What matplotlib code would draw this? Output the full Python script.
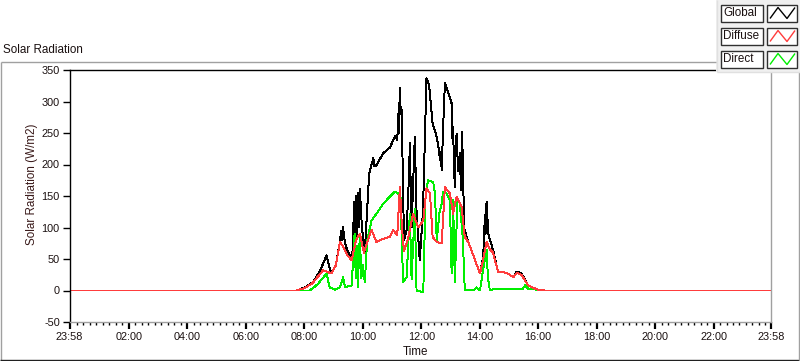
"""
Solar radiation over one day (global, diffuse, direct), LabVIEW-style chart.
"""

import matplotlib.pyplot as plt
from matplotlib.lines import Line2D
from matplotlib.patches import Rectangle
from matplotlib.ticker import FixedLocator

PLOT_FILE = "out.png"
W, H = 800, 361

START = -2 / 60          # 23:58 of the previous day
END = 24 - 2 / 60        # 23:58

# time in hours after midnight, values in W/m2
GLOBAL_T = [START, 7.74, 8.02, 8.29, 8.53, 8.76, 8.84, 8.93, 9.08, 9.15, 9.22,
            9.26, 9.29, 9.32, 9.39, 9.49, 9.62, 9.66, 9.70, 9.73, 9.77,
            9.80, 9.83, 9.87, 9.90, 9.97, 10.07, 10.14, 10.22, 10.36, 10.40,
            10.47, 10.70, 10.93, 11.10, 11.18, 11.22, 11.24, 11.26, 11.27,
            11.30, 11.33, 11.41, 11.50, 11.58, 11.61, 11.67, 11.78, 11.84,
            11.95, 12.06, 12.18, 12.27, 12.39, 12.53, 12.60, 12.64, 12.67,
            12.70, 12.75, 12.81, 12.90, 13.04, 13.07, 13.09, 13.12, 13.15,
            13.18, 13.21, 13.26, 13.32, 13.36, 13.40, 13.47, 13.61, 13.78,
            14.01, 14.12, 14.18, 14.20, 14.22, 14.24, 14.29, 14.46, 14.63,
            14.80, 14.96, 15.15, 15.27, 15.43, 15.66, 16.00, 16.23, END]
GLOBAL_V = [0, 0, 5, 13, 30, 56, 40, 27, 40, 60, 77,
            95, 80, 101, 75, 61, 53, 65, 140, 70, 150,
            85, 155, 100, 162, 100, 61, 120, 186, 210, 197,
            199, 218, 227, 245, 239, 280, 250, 310, 321,
            280, 287, 80, 96, 180, 234, 100, 244, 125,
            48, 127, 337, 326, 265, 244, 225, 207, 220,
            191, 260, 329, 318, 297, 240, 260, 200, 164,
            230, 249, 190, 218, 160, 252, 98, 77, 56,
            27, 53, 120, 90, 135, 141, 90, 64, 29,
            29, 27, 21, 30, 27, 8, 1, 0, 0]

DIFFUSE_T = [START, 7.74, 8.02, 8.29, 8.64, 8.77, 8.93, 9.08, 9.22, 9.32,
             9.49, 9.62, 9.77, 9.90, 10.04, 10.14, 10.30, 10.47, 10.70, 10.93,
             11.04, 11.18, 11.27, 11.34, 11.41, 11.54, 11.72, 11.90, 12.07,
             12.18, 12.30, 12.39, 12.53, 12.70, 12.81, 12.98, 13.09, 13.21,
             13.38, 13.49, 13.61, 13.78, 14.01, 14.12, 14.24, 14.35, 14.46,
             14.63, 14.80, 14.96, 15.15, 15.27, 15.43, 15.66, 16.00, 16.23,
             END]
DIFFUSE_V = [0, 0, 4, 12, 32, 30, 27, 40, 77, 70,
             55, 48, 80, 90, 60, 75, 96, 77, 82, 85,
             96, 88, 164, 100, 63, 80, 122, 100, 111,
             162, 154, 85, 77, 75, 164, 154, 122, 149,
             133, 85, 77, 56, 27, 50, 77, 65, 60,
             29, 29, 27, 21, 28, 25, 8, 1, 0,
             0]

DIRECT_T = [START, 8.19, 8.46, 8.76, 8.87, 9.05, 9.22, 9.33, 9.39, 9.62,
            9.72, 9.76, 9.80, 9.83, 9.90, 9.95, 10.00, 10.07, 10.15, 10.30,
            10.47, 10.70, 10.93, 11.10, 11.21, 11.29, 11.38, 11.50, 11.61,
            11.67, 11.78, 11.84, 12.07, 12.15, 12.24, 12.41, 12.47, 12.53,
            12.62, 12.70, 12.75, 12.87, 12.98, 13.04, 13.09, 13.15, 13.24,
            13.32, 13.42, 13.49, 13.78, 13.89, 14.01, 14.14, 14.24, 14.28,
            14.35, 14.52, 15.03, 15.48, 15.55, 15.65, 16.00, 16.23, END]
DIRECT_V = [0, 0, 10, 27, 5, 1, 5, 21, 5, 8,
            90, 20, 70, 5, 90, 20, 40, 13, 79, 111,
            122, 138, 149, 157, 154, 150, 13, 21, 122,
            18, 130, 0, -3, 154, 175, 172, 154, 80,
            122, 138, 157, 154, 143, 27, 143, 13, 146,
            138, 85, 1, 0, 5, 0, 40, 64, 20,
            0, 3, 3, 3, 8, 3, 1, 0, 0]

Y_TICKS = [350, 300, 250, 200, 150, 100, 50, 0, -50]
X_TICKS = [START, 2, 4, 6, 8, 10, 12, 14, 16, 18, 20, 22, END]
X_LABELS = ["23:58", "02:00", "04:00", "06:00", "08:00", "10:00", "12:00",
            "14:00", "16:00", "18:00", "20:00", "22:00", "23:58"]

SERIES = [("Global", "#000000"), ("Diffuse", "#ff3c3c"), ("Direct", "#00ee00")]

FONT = "Liberation Sans"
TEXT_COLOR = "#1a1010"
DATA_LW = 0.7


def fx(x):
    return x / W


def fy(y):
    return 1 - y / H


def fig_line(fig, xs, ys, color, lw=1.0):
    fig.add_artist(Line2D([fx(x) for x in xs], [fy(y) for y in ys],
                          color=color, lw=lw, solid_capstyle="butt"))


def fig_box(fig, x0, y0, x1, y1, face, edge):
    fig.add_artist(Rectangle((fx(x0), fy(y1)), (x1 - x0) / W, (y1 - y0) / H,
                             facecolor=face, edgecolor=edge, lw=1.0,
                             transform=fig.transFigure))


def draw_chart():
    plt.rcParams["font.family"] = [FONT, "DejaVu Sans"]
    plt.rcParams["axes.unicode_minus"] = False

    fig = plt.figure(figsize=(W / 100, H / 100), dpi=100)

    # outer frame of the graph control
    fig_line(fig, [0.5, 716], [61.5, 61.5], "#a0a0a0")
    fig_line(fig, [0.5, 0.5], [61.5, 360], "#a0a0a0")
    fig_line(fig, [0, 799], [359.5, 359.5], "#202020")
    fig_line(fig, [798.5, 798.5], [72, 360], "#a0a0a0")

    ax = fig.add_axes([fx(69.5), fy(322), (771 - 69.5) / W, (322 - 70) / H])
    ax.plot(GLOBAL_T, GLOBAL_V, color=SERIES[0][1], lw=DATA_LW,
            antialiased=False)
    ax.plot(DIRECT_T, DIRECT_V, color=SERIES[2][1], lw=DATA_LW,
            antialiased=False)
    ax.plot(DIFFUSE_T, DIFFUSE_V, color=SERIES[1][1], lw=DATA_LW,
            antialiased=False)

    ax.set_xlim(START, END)
    ax.set_ylim(-50, 350)
    ax.set_yticks(Y_TICKS)
    ax.set_yticklabels([str(v) for v in Y_TICKS])
    ax.set_xticks(X_TICKS)
    ax.set_xticklabels(X_LABELS)
    minor = [k * 2 / 9 for k in range(108) if k % 9 and k * 2 / 9 < END]
    ax.xaxis.set_minor_locator(FixedLocator(minor))

    ax.tick_params(axis="y", length=5, width=1, pad=2, labelsize=7.8,
                   labelcolor=TEXT_COLOR)
    ax.tick_params(axis="x", which="major", length=5, width=1.6, pad=2,
                   labelsize=7.8, labelcolor=TEXT_COLOR)
    ax.tick_params(axis="x", which="minor", length=2.5, width=1)

    ax.spines["top"].set_color("black")
    ax.spines["left"].set_color("black")
    ax.spines["bottom"].set_color("#a0a0a0")
    ax.spines["right"].set_color("#a0a0a0")
    for s in ax.spines.values():
        s.set_linewidth(1.0)

    fig.text(fx(3), fy(50), "Solar Radiation", fontsize=8.4,
             color=TEXT_COLOR, va="center", ha="left")
    fig.text(fx(32), fy(184), "Solar Radiation (W/m2)", fontsize=8.4,
             color="#3a1a1a", rotation=90, va="center", ha="center")
    fig.text(fx(403), fy(352), "Time", fontsize=8.4, color=TEXT_COLOR,
             va="center", ha="left")

    # legend panel
    fig_box(fig, 716, 0, 800, 72, "#f0f0f0", "none")
    fig_line(fig, [716.5, 716.5], [0, 72], "#e0e0e0")
    fig_line(fig, [716.5, 800], [71.5, 71.5], "#e0e0e0")
    for i, (name, color) in enumerate(SERIES):
        y0 = 4.5 + 23 * i
        fig_box(fig, 721, y0, 763, y0 + 17, "white", "#303030")
        fig_box(fig, 767, y0, 797, y0 + 17, "white", "#303030")
        fig.text(fx(723), fy(y0 + 8.5), name, fontsize=8.4,
                 color=TEXT_COLOR, va="center", ha="left")
        fig_line(fig, [770, 778, 787, 795],
                 [y0 + 14, y0 + 3, y0 + 14, y0 + 3], color)

    fig.savefig(PLOT_FILE, dpi=100)


if __name__ == "__main__":
    draw_chart()
